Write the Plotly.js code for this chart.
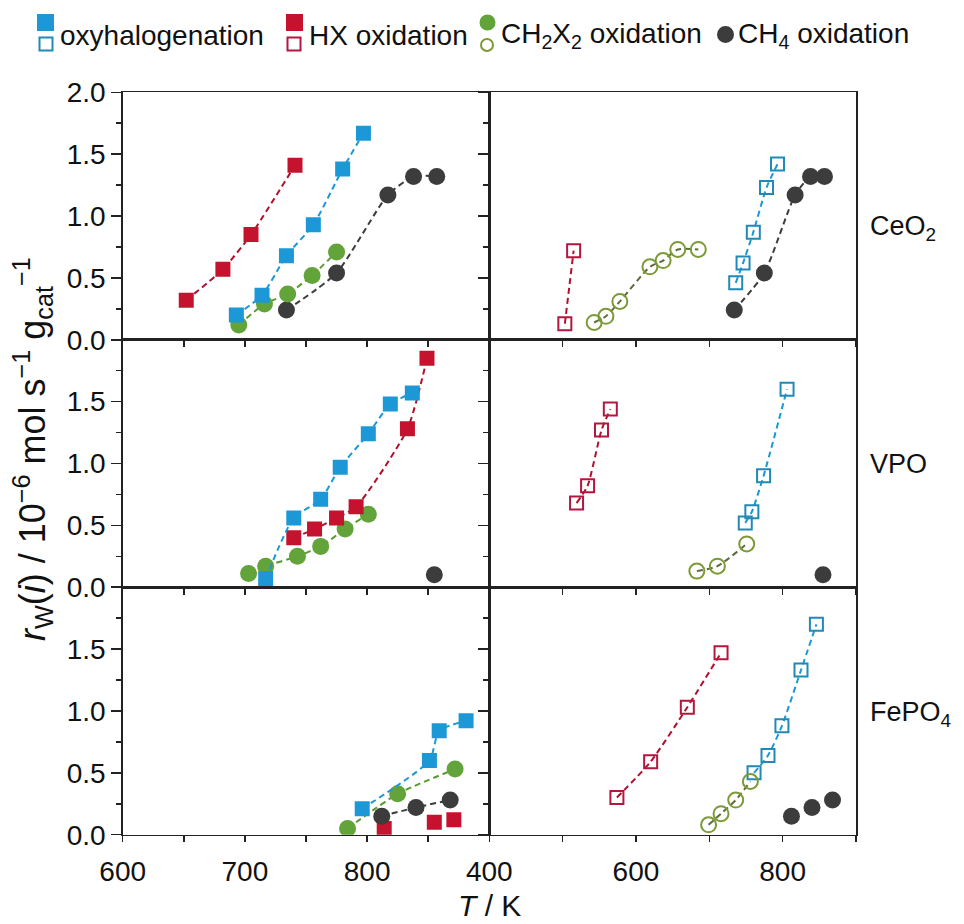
<!DOCTYPE html>
<html>
<head>
<meta charset="utf-8">
<script src="https://cdn.plot.ly/plotly-3.0.1.min.js"></script>
<style>
  html, body { margin: 0; padding: 0; background: #ffffff; }
  #chart { width: 964px; height: 924px; }
</style>
</head>
<body>
<div id="chart"></div>
<script>
// ---- CeO2 ----
const ceo2OxyT   = [693, 714, 734, 756, 780, 797];
const ceo2OxyR   = [0.20, 0.36, 0.68, 0.93, 1.38, 1.67];
const ceo2HxT    = [652, 682, 705, 741];
const ceo2HxR    = [0.32, 0.57, 0.85, 1.41];
const ceo2Ch2x2T = [695, 716, 735, 755, 775];
const ceo2Ch2x2R = [0.12, 0.29, 0.37, 0.52, 0.71];
const ceo2Ch4T   = [734, 775, 817, 838, 857];
const ceo2Ch4R   = [0.24, 0.54, 1.17, 1.32, 1.32];
const ceo2OxyOpenT   = [736, 746, 760, 778, 793];
const ceo2OxyOpenR   = [0.46, 0.62, 0.87, 1.23, 1.42];
const ceo2HxOpenT    = [503, 515];
const ceo2HxOpenR    = [0.13, 0.72];
const ceo2Ch2x2OpenT = [543, 559, 578, 619, 637, 657, 685];
const ceo2Ch2x2OpenR = [0.14, 0.19, 0.31, 0.59, 0.64, 0.73, 0.73];

// ---- VPO ----
const vpoOxyT   = [717, 740, 762, 778, 801, 819, 837];
const vpoOxyR   = [0.07, 0.56, 0.71, 0.97, 1.24, 1.48, 1.57];
const vpoHxT    = [740, 757, 775, 791, 833, 849];
const vpoHxR    = [0.40, 0.47, 0.56, 0.65, 1.28, 1.85];
const vpoCh2x2T = [703, 717, 743, 762, 782, 801];
const vpoCh2x2R = [0.11, 0.17, 0.25, 0.33, 0.47, 0.59];
const vpoCh4T   = [855];
const vpoCh4R   = [0.10];
const vpoOxyOpenT   = [749, 758, 774, 806];
const vpoOxyOpenR   = [0.52, 0.61, 0.90, 1.60];
const vpoHxOpenT    = [519, 534, 553, 565];
const vpoHxOpenR    = [0.68, 0.82, 1.27, 1.44];
const vpoCh2x2OpenT = [683, 711, 751];
const vpoCh2x2OpenR = [0.13, 0.17, 0.35];

// ---- FePO4 ----
const feOxyT   = [796, 851, 859, 881];
const feOxyR   = [0.21, 0.60, 0.84, 0.92];
const feHxT    = [814, 855, 871];
const feHxR    = [0.05, 0.10, 0.12];
const feCh2x2T = [784, 825, 872];
const feCh2x2R = [0.05, 0.33, 0.53];
const feCh4T   = [812, 840, 868];
const feCh4R   = [0.15, 0.22, 0.28];
const feOxyOpenT   = [761, 780, 799, 825, 846];
const feOxyOpenR   = [0.50, 0.64, 0.88, 1.33, 1.70];
const feHxOpenT    = [574, 620, 670, 716];
const feHxOpenR    = [0.30, 0.59, 1.03, 1.47];
const feCh2x2OpenT = [699, 716, 736, 756];
const feCh2x2OpenR = [0.08, 0.17, 0.28, 0.43];

// ---- labels and ticks ----
const rowLabels = ['CeO<sub>2</sub>', 'VPO', 'FePO<sub>4</sub>'];
const legendLabels = ['oxyhalogenation', 'HX oxidation', 'CH<sub>2</sub>X<sub>2</sub> oxidation', 'CH<sub>4</sub> oxidation'];
const leftTickVals  = [600, 700, 800];
const leftMinorVals = [650, 750, 850, 900];
const rightTickVals  = [400, 600, 800];
const rightMinorVals = [500, 700, 900];
const yTickValsTop = [0, 0.5, 1, 1.5, 2];
const yTickTextTop = ['0.0', '0.5', '1.0', '1.5', '2.0'];
const yTickVals = [0, 0.5, 1, 1.5];
const yTickText = ['0.0', '0.5', '1.0', '1.5'];
const yMinorVals = [0.25, 0.75, 1.25, 1.75];

// ---- styling ----
const C = {
  blue: '#1b98d5', red: '#c4122f', green: '#62a33a', gray: '#3c3c3c',
  blueOpen: '#2189b5', redOpen: '#b3163e', greenOpen: '#7c9a35',
  blueLine: '#1b98d5', redLine: '#b0102c', greenLine: '#5a9a30', grayLine: '#3c3c3c',
  greenOpenLine: '#5d6b3e'
};
const FONT = 'Liberation Sans, Arial, Helvetica, sans-serif';

function series(x, y, ax, kind, color, lineColor, withLine) {
  const filled = kind === 'sq' || kind === 'ci';
  const symbol = {sq: 'square', ci: 'circle', sqo: 'square-open', cio: 'circle-open'}[kind];
  const size = {sq: 15, ci: 17, sqo: 13, cio: 15}[kind];
  return {
    type: 'scatter', x: x, y: y, xaxis: ax[0], yaxis: ax[1],
    mode: withLine ? 'lines+markers' : 'markers',
    line: {color: lineColor, width: 2, dash: '6px,4px', shape: 'spline', smoothing: 0.6},
    marker: {symbol: symbol, size: size, color: color,
             line: {width: filled ? 0 : 2, color: color}},
    showlegend: false, hoverinfo: 'skip', cliponaxis: true
  };
}

const TL = ['x', 'y'], TR = ['x2', 'y2'];
const ML = ['x3', 'y3'], MR = ['x4', 'y4'];
const BL = ['x5', 'y5'], BR = ['x6', 'y6'];

const traces = [
  // CeO2, filled (left)
  series(ceo2HxT, ceo2HxR, TL, 'sq', C.red, C.redLine, true),
  series(ceo2Ch4T, ceo2Ch4R, TL, 'ci', C.gray, C.grayLine, true),
  series(ceo2Ch2x2T, ceo2Ch2x2R, TL, 'ci', C.green, C.greenLine, true),
  series(ceo2OxyT, ceo2OxyR, TL, 'sq', C.blue, C.blueLine, true),
  // CeO2, open (right)
  series(ceo2HxOpenT, ceo2HxOpenR, TR, 'sqo', C.redOpen, C.redLine, true),
  series(ceo2Ch2x2OpenT, ceo2Ch2x2OpenR, TR, 'cio', C.greenOpen, C.greenOpenLine, true),
  series(ceo2OxyOpenT, ceo2OxyOpenR, TR, 'sqo', C.blueOpen, C.blueLine, true),
  series(ceo2Ch4T, ceo2Ch4R, TR, 'ci', C.gray, C.grayLine, true),
  // VPO, filled (left)
  series(vpoCh2x2T, vpoCh2x2R, ML, 'ci', C.green, C.greenLine, true),
  series(vpoHxT, vpoHxR, ML, 'sq', C.red, C.redLine, true),
  series(vpoOxyT, vpoOxyR, ML, 'sq', C.blue, C.blueLine, true),
  series(vpoCh4T, vpoCh4R, ML, 'ci', C.gray, C.grayLine, false),
  // VPO, open (right)
  series(vpoHxOpenT, vpoHxOpenR, MR, 'sqo', C.redOpen, C.redLine, true),
  series(vpoCh2x2OpenT, vpoCh2x2OpenR, MR, 'cio', C.greenOpen, C.greenOpenLine, true),
  series(vpoOxyOpenT, vpoOxyOpenR, MR, 'sqo', C.blueOpen, C.blueLine, true),
  series(vpoCh4T, vpoCh4R, MR, 'ci', C.gray, C.grayLine, false),
  // FePO4, filled (left)
  series(feHxT, feHxR, BL, 'sq', C.red, C.redLine, false),
  series(feCh4T, feCh4R, BL, 'ci', C.gray, C.grayLine, true),
  series(feCh2x2T, feCh2x2R, BL, 'ci', C.green, C.greenLine, true),
  series(feOxyT, feOxyR, BL, 'sq', C.blue, C.blueLine, true),
  // FePO4, open (right)
  series(feHxOpenT, feHxOpenR, BR, 'sqo', C.redOpen, C.redLine, true),
  series(feOxyOpenT, feOxyOpenR, BR, 'sqo', C.blueOpen, C.blueLine, true),
  series(feCh2x2OpenT, feCh2x2OpenR, BR, 'cio', C.greenOpen, C.greenOpenLine, true),
  series(feCh4T, feCh4R, BR, 'ci', C.gray, C.grayLine, false)
];

// legend glyphs, drawn on a strip axis measured in pixels from the top-left
const legendGlyphs = [
  {x: [45.5], y: [22.5], symbol: 'square', size: 15, color: C.blue},
  {x: [46], y: [44], symbol: 'square-open', size: 13, color: C.blueOpen},
  {x: [294.5], y: [22.5], symbol: 'square', size: 15, color: C.red},
  {x: [294], y: [44], symbol: 'square-open', size: 13, color: C.redOpen},
  {x: [487.5], y: [22.5], symbol: 'circle', size: 14, color: C.green},
  {x: [487], y: [45], symbol: 'circle-open', size: 12, color: C.greenOpen},
  {x: [725.5], y: [34.5], symbol: 'circle', size: 15, color: C.gray}
];
legendGlyphs.forEach(g => traces.push({
  type: 'scatter', mode: 'markers', x: g.x, y: g.y, xaxis: 'x7', yaxis: 'y7',
  marker: {symbol: g.symbol, size: g.size, color: g.color, line: {width: 2, color: g.color}},
  showlegend: false, hoverinfo: 'skip', cliponaxis: false
}));

// panel geometry (fractions of the page)
const W = 964, H = 924;
const xL = [122.7 / W, 489.3 / W], xR = [489.3 / W, 856 / W];
const yEdges = [92.3, 339.8, 587.2, 834.7].map(p => 1 - p / H);
const rowDom = [[yEdges[1], yEdges[0]], [yEdges[2], yEdges[1]], [yEdges[3], yEdges[2]]];

const AX = '#222222';
function xAxis(dom, anchor, left, bottom) {
  return {
    domain: dom, anchor: anchor,
    range: left ? [600, 900] : [400, 900],
    tickmode: 'array',
    tickvals: left ? leftTickVals : rightTickVals,
    showticklabels: bottom,
    ticklabelstandoff: 5,
    ticks: 'outside', ticklen: 6, tickwidth: 1.5, tickcolor: AX,
    minor: {tickvals: left ? leftMinorVals : rightMinorVals, ticks: 'outside',
            ticklen: 6, tickwidth: 1.5, tickcolor: AX, showgrid: false},
    showline: true, linecolor: AX, linewidth: 1.5, mirror: true,
    showgrid: false, zeroline: false,
    tickfont: {family: FONT, size: 28, color: '#111'}
  };
}
function yAxis(dom, anchor, left, top) {
  return {
    domain: dom, anchor: anchor, range: [0, 2],
    tickmode: 'array',
    tickvals: top ? yTickValsTop : yTickVals,
    ticktext: top ? yTickTextTop : yTickText,
    showticklabels: left,
    ticks: 'outside', ticklen: 10, tickwidth: 1.5, tickcolor: AX,
    minor: {tickvals: yMinorVals, ticks: 'outside', ticklen: 5, tickwidth: 1.5, tickcolor: AX, showgrid: false},
    showline: true, linecolor: AX, linewidth: 1.5, mirror: true,
    showgrid: false, zeroline: false,
    tickfont: {family: FONT, size: 28, color: '#111'}
  };
}

const annotations = [];
const rowLabelY = [228, 464, 714];
rowLabels.forEach((t, i) => annotations.push({
  text: t, xref: 'paper', yref: 'paper', x: 868 / W, y: 1 - rowLabelY[i] / H,
  xanchor: 'left', yanchor: 'middle', showarrow: false,
  font: {family: FONT, size: 27, color: '#111'}
}));
const legendTextX = [58, 307, 499, 736];
legendLabels.forEach((t, i) => annotations.push({
  text: t, xref: 'x7', yref: 'y7', x: legendTextX[i], y: 35,
  xanchor: 'left', yanchor: 'middle', showarrow: false,
  font: {family: FONT, size: 28, color: '#111'}
}));
annotations.push({
  text: '<i>T</i> / K', xref: 'paper', yref: 'paper', x: 489 / W, y: 1 - 905 / H,
  xanchor: 'center', yanchor: 'middle', showarrow: false,
  font: {family: FONT, size: 30, color: '#111'}
});
annotations.push({
  text: '<i>r</i><sub>W</sub>(<i>i</i>) / 10<sup>\u22126</sup> mol s<sup>\u22121</sup> g<sub>cat</sub><sup>\u22121</sup>',
  xref: 'paper', yref: 'paper', x: 33 / W, y: 1 - 449 / H,
  xanchor: 'center', yanchor: 'middle', textangle: -90, showarrow: false,
  font: {family: FONT, size: 36, color: '#111'}
});

const layout = {
  width: W, height: H,
  margin: {l: 0, r: 0, t: 0, b: 0},
  paper_bgcolor: '#ffffff', plot_bgcolor: '#ffffff',
  showlegend: false,
  xaxis:  xAxis(xL, 'y', true, false),   yaxis:  yAxis(rowDom[0], 'x', true, true),
  xaxis2: xAxis(xR, 'y2', false, false), yaxis2: yAxis(rowDom[0], 'x2', false, true),
  xaxis3: xAxis(xL, 'y3', true, false),  yaxis3: yAxis(rowDom[1], 'x3', true, false),
  xaxis4: xAxis(xR, 'y4', false, false), yaxis4: yAxis(rowDom[1], 'x4', false, false),
  xaxis5: xAxis(xL, 'y5', true, true),   yaxis5: yAxis(rowDom[2], 'x5', true, false),
  xaxis6: xAxis(xR, 'y6', false, true),  yaxis6: yAxis(rowDom[2], 'x6', false, false),
  xaxis7: {domain: [0, 1], anchor: 'y7', range: [0, W], visible: false, fixedrange: true},
  yaxis7: {domain: [1 - 60 / H, 1], anchor: 'x7', range: [60, 0], visible: false, fixedrange: true},
  annotations: annotations
};

Plotly.newPlot('chart', traces, layout, {staticPlot: true, displayModeBar: false});
</script>
</body>
</html>
